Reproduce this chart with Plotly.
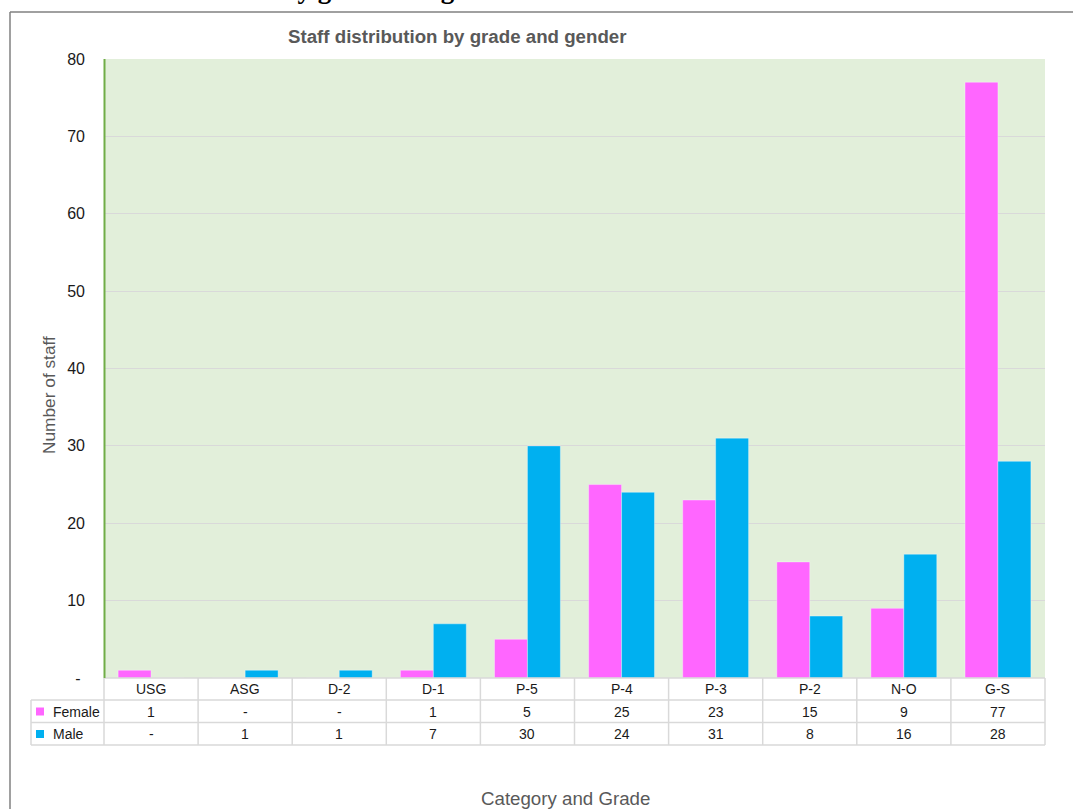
import plotly.graph_objects as go

# --- data -------------------------------------------------------------
grades = ["USG", "ASG", "D-2", "D-1", "P-5", "P-4", "P-3", "P-2", "N-O", "G-S"]
female = [1, 0, 0, 1, 5, 25, 23, 15, 9, 77]
male = [0, 1, 1, 7, 30, 24, 31, 8, 16, 28]
series_names = ["Female", "Male"]
series_colors = ["#FF66FF", "#00B0F0"]
y_ticks = [0, 10, 20, 30, 40, 50, 60, 70, 80]

# --- geometry (pixels) --------------------------------------------------
W, H = 1073, 809
L, R, T, B = 104, 1045, 59, 678          # plot area edges
PW, PH = R - L, B - T


def xp(px):
    return (px - L) / PW


def yp(py):
    return (B - py) / PH


def fmt(v):
    return "-" if v == 0 else str(v)


fig = go.Figure()
for name, vals, col in zip(series_names, [female, male], series_colors):
    fig.add_trace(go.Bar(
        x=grades, y=vals, name=name,
        marker=dict(color=col, line=dict(color="rgba(255,255,255,0.35)", width=1)),
        showlegend=False,
    ))

shapes = []
annotations = []
grid_col = "#D9D9D9"

# data table under the plot
row_y = [678, 700, 722.5, 745]
n = len(grades)
cw = PW / n
# horizontal rules
shapes.append(dict(type="line", xref="paper", yref="paper", x0=xp(L), x1=xp(R),
                   y0=yp(row_y[0]), y1=yp(row_y[0]), line=dict(color=grid_col, width=1.5)))
for ry in row_y[1:]:
    shapes.append(dict(type="line", xref="paper", yref="paper", x0=xp(31), x1=xp(R),
                       y0=yp(ry), y1=yp(ry), line=dict(color=grid_col, width=1.5)))
# vertical rules
shapes.append(dict(type="line", xref="paper", yref="paper", x0=xp(31), x1=xp(31),
                   y0=yp(row_y[1]), y1=yp(row_y[3]), line=dict(color=grid_col, width=1.5)))
for i in range(n + 1):
    vx = L + i * cw
    shapes.append(dict(type="line", xref="paper", yref="paper", x0=xp(vx), x1=xp(vx),
                       y0=yp(row_y[0]), y1=yp(row_y[3]), line=dict(color=grid_col, width=1.5)))

# value axis line along the plot's left edge
shapes.append(dict(type="line", xref="paper", yref="paper", x0=xp(L + 0.5), x1=xp(L + 0.5),
                   y0=0, y1=1, line=dict(color="#70AD47", width=2)))

tfont = dict(family="Liberation Sans, Arial, sans-serif", size=14, color="#1a1a1a")
for i, g in enumerate(grades):
    cx = L + (i + 0.5) * cw
    annotations.append(dict(x=xp(cx), y=yp(689), xref="paper", yref="paper", text=g,
                            showarrow=False, xanchor="center", yanchor="middle", font=tfont))
    for vals, ry in zip([female, male], [711.5, 734]):
        annotations.append(dict(x=xp(cx), y=yp(ry), xref="paper", yref="paper", text=fmt(vals[i]),
                                showarrow=False, xanchor="center", yanchor="middle", font=tfont))

# legend keys in the table's first column
for name, col, ry in zip(series_names, series_colors, [711.5, 734]):
    shapes.append(dict(type="rect", xref="paper", yref="paper", x0=xp(36), x1=xp(44),
                       y0=yp(ry - 4), y1=yp(ry + 4), fillcolor=col, line=dict(width=0)))
    annotations.append(dict(x=xp(51), y=yp(ry), xref="paper", yref="paper", text=name,
                            showarrow=False, xanchor="left", yanchor="middle", font=tfont))

# chart frame
frame = "#808080"
shapes.append(dict(type="line", xref="paper", yref="paper", x0=xp(10), x1=xp(W + 5),
                   y0=yp(12), y1=yp(12), line=dict(color=frame, width=1.5)))
shapes.append(dict(type="line", xref="paper", yref="paper", x0=xp(10), x1=xp(10),
                   y0=yp(12), y1=yp(H + 5), line=dict(color=frame, width=1.5)))

# page heading above the frame
annotations.append(dict(x=xp(75), y=yp(-11), xref="paper", yref="paper",
                        text="<b>Staff distribution by grade and gender</b>", showarrow=False,
                        xanchor="left", yanchor="middle",
                        font=dict(family="Liberation Serif, Times New Roman, serif", size=27, color="#000000")))

# chart title and axis titles
annotations.append(dict(x=xp(457), y=yp(37), xref="paper", yref="paper",
                        text="<b>Staff distribution by grade and gender</b>", showarrow=False,
                        xanchor="center", yanchor="middle",
                        font=dict(family="Liberation Sans, Arial, sans-serif", size=18.7, color="#595959")))
annotations.append(dict(x=xp(565), y=yp(798), xref="paper", yref="paper",
                        text="Category and Grade", showarrow=False,
                        xanchor="center", yanchor="middle",
                        font=dict(family="Liberation Sans, Arial, sans-serif", size=18.7, color="#595959")))
annotations.append(dict(x=xp(49), y=yp(395), xref="paper", yref="paper",
                        text="Number of staff", showarrow=False, textangle=-90,
                        xanchor="center", yanchor="middle",
                        font=dict(family="Liberation Sans, Arial, sans-serif", size=17.3, color="#595959")))

fig.update_layout(
    width=W, height=H,
    margin=dict(l=L, r=W - R, t=T, b=H - B, pad=0),
    paper_bgcolor="#FFFFFF",
    plot_bgcolor="#E2EFDA",
    barmode="group", bargap=0.3, bargroupgap=0,
    shapes=shapes, annotations=annotations,
    xaxis=dict(showticklabels=False, ticks="", showgrid=False, zeroline=False,
               showline=False, range=[-0.5, n - 0.5]),
    yaxis=dict(range=[0, 80], tickvals=y_ticks,
               ticktext=["-\u00a0" if v == 0 else str(v) for v in y_ticks],
               showgrid=True, gridcolor=grid_col, gridwidth=1, zeroline=False,
               showline=False, ticks="", ticklabelstandoff=18,
               tickfont=dict(family="Liberation Sans, Arial, sans-serif", size=16, color="#1a1a1a")),
)

fig.write_html("out.html")
